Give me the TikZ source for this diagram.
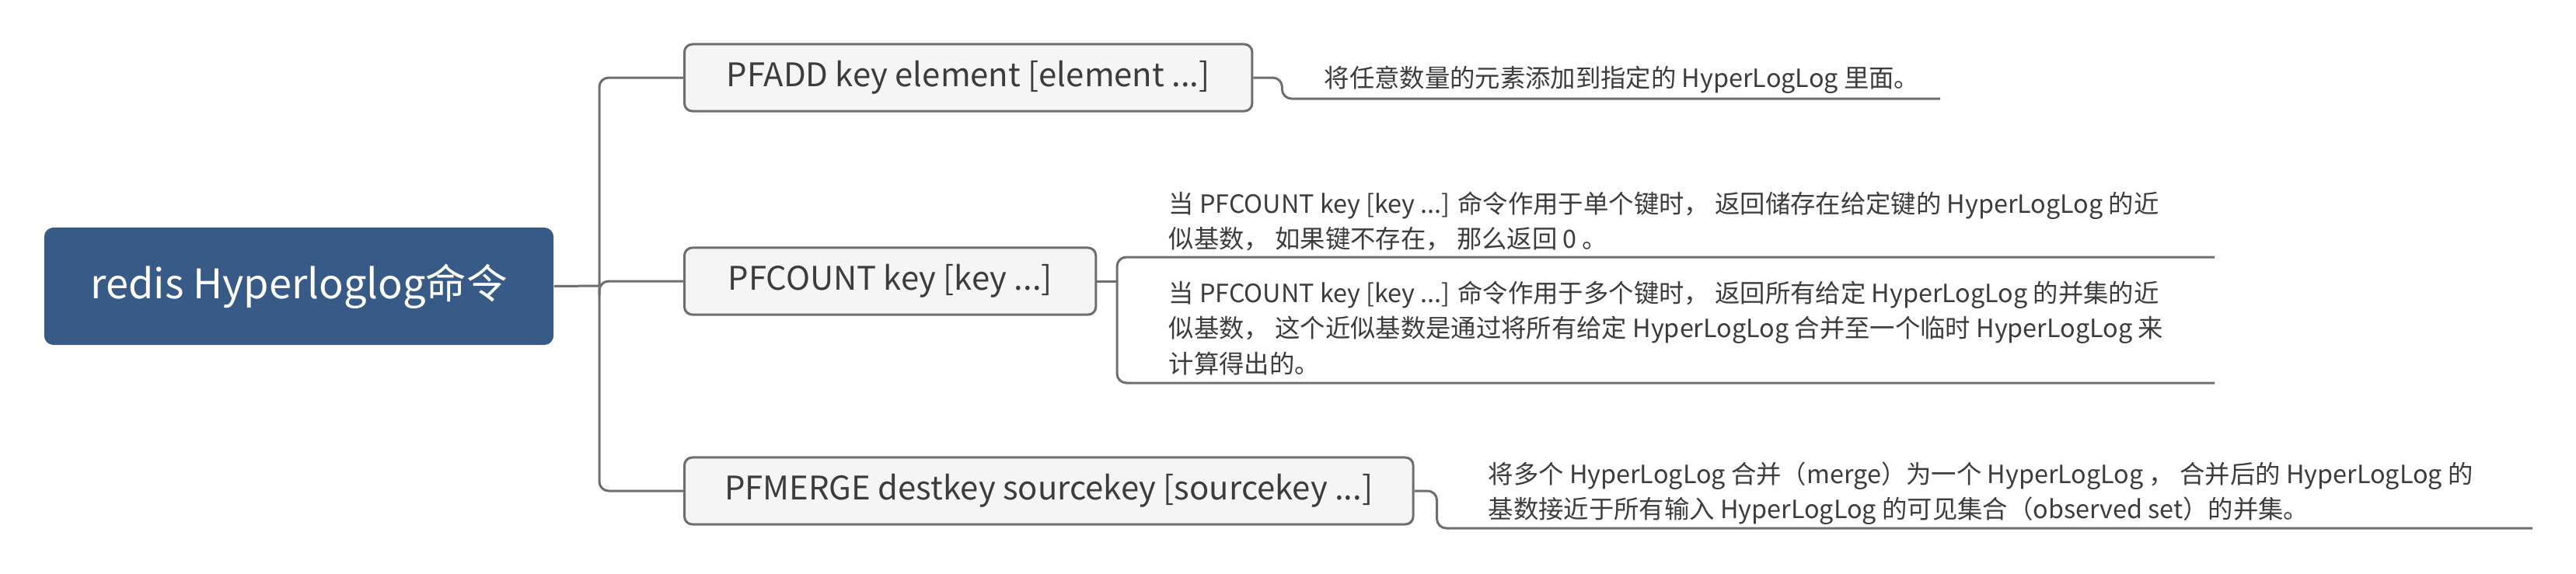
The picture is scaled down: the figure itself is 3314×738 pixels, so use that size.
\documentclass[tikz,border=0pt]{standalone}
\usepackage{fontspec}
\setmainfont{Noto Sans CJK SC}
\usepackage{tikz}
\definecolor{rootblue}{RGB}{55, 90, 135}
\definecolor{linegray}{RGB}{110, 110, 110}
\definecolor{boxfill}{RGB}{245, 245, 245}
\definecolor{textgray}{RGB}{60, 60, 60}

\begin{document}
\begin{tikzpicture}[x=0.01cm, y=-0.01cm,
    cmdbox/.style={draw=linegray, fill=boxfill, line width=0.03cm, rounded corners=0.1cm, minimum height=0.86cm, anchor=west, text=textgray, font=\fontsize{11.9pt}{14pt}\selectfont},
    note/.style={anchor=west, align=left, inner sep=0pt, text=textgray, font=\fontsize{9.2pt}{12.8pt}\selectfont},
    link/.style={draw=linegray, line width=0.03cm, rounded corners=0.12cm}]
    \useasboundingbox (0,0) rectangle (3314,738);

    % Central node
    \node[rectangle, rounded corners=0.12cm, fill=rootblue, text=white, minimum width=6.55cm, minimum height=1.51cm, font=\fontsize{14.9pt}{18pt}\selectfont] (root) at (384.5,368.5) {redis Hyperloglog命令};

    % Command nodes
    \node[cmdbox, minimum width=7.30cm] (pfadd) at (879,100) {PFADD key element [element ...]};
    \node[cmdbox, minimum width=5.29cm] (pfcount) at (879,362) {PFCOUNT key [key ...]};
    \node[cmdbox, minimum width=9.37cm] (pfmerge) at (879,632) {PFMERGE destkey sourcekey [sourcekey ...]};

    % Notes
    \node[note] (addnote) at (1703,103) {将任意数量的元素添加到指定的 HyperLogLog 里面。};
    \node[note] (cntnote1) at (1503,284.5) {当 PFCOUNT key [key ...] 命令作用于单个键时， 返回储存在给定键的 HyperLogLog 的近\\似基数， 如果键不存在， 那么返回 0 。};
    \node[note] (cntnote2) at (1503,422.5) {当 PFCOUNT key [key ...] 命令作用于多个键时， 返回所有给定 HyperLogLog 的并集的近\\似基数， 这个近似基数是通过将所有给定 HyperLogLog 合并至一个临时 HyperLogLog 来\\计算得出的。};
    \node[note] (mrgnote) at (1914,635) {将多个 HyperLogLog 合并（merge）为一个 HyperLogLog ， 合并后的 HyperLogLog 的\\基数接近于所有输入 HyperLogLog 的可见集合（observed set）的并集。};

    % Connector ends
    \coordinate (hub) at (771,368);
    \coordinate (hublow) at (771,380);
    \coordinate (addend) at (2496,127);
    \coordinate (cntjoint) at (1437,362);
    \coordinate (cnt1end) at (2849,331);
    \coordinate (cnt2end) at (2849,493);
    \coordinate (mrgend) at (3258,680);

    % Connecting lines
    \draw[link] (root.east) -- (hub);
    \draw[link] (pfadd.west) -| (hub) |- (pfmerge.west);
    \draw[link] (hublow) |- (pfcount.west);
    \draw[link] (pfadd.east) -- ++(37,0) |- (addend);
    \draw[link] (pfcount.east) -- (cntjoint);
    \draw[link] (cnt1end) -| (cntjoint) |- (cnt2end);
    \draw[link] (pfmerge.east) -- ++(29,0) |- (mrgend);
\end{tikzpicture}
\end{document}
